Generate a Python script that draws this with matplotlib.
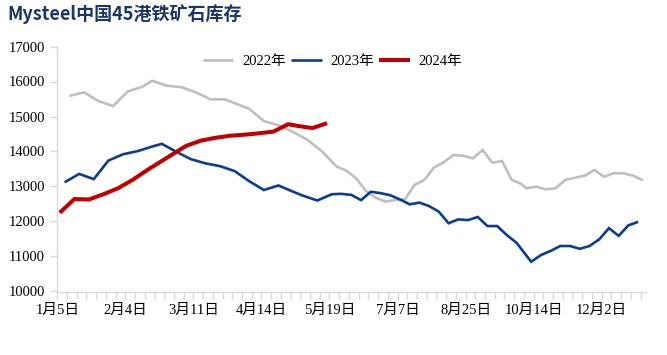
import matplotlib
matplotlib.use("Agg")
import matplotlib.pyplot as plt
import numpy as np

# ---- data ----
title = "Mysteel中国45港铁矿石库存"
tick_labels = ["1月5日", "2月4日", "3月11日", "4月14日", "5月19日",
               "7月7日", "8月25日", "10月14日", "12月2日"]
n_categories = 121
label_every = 14
tick_every = 2

cats_2022 = [2, 5, 8, 11, 14, 17, 19, 22, 25, 28, 31, 34, 36, 39, 42, 45, 48, 51, 54,
             57, 59, 61, 63, 65, 67, 69, 71, 73, 75, 77, 79, 81, 83, 85, 87, 89, 91, 93, 95,
             96, 98, 100, 102, 104, 106, 108, 110, 112, 114, 116, 118, 120]
vals_2022 = [15590, 15690, 15440, 15300, 15715, 15850, 16020, 15880, 15840, 15690, 15490,
             15490, 15380, 15220, 14870, 14750, 14560, 14330, 14000,
             13566, 13450, 13230, 12870, 12680, 12570, 12610, 12630, 13043, 13186, 13540,
             13690, 13900, 13880, 13806, 14043, 13680, 13729, 13186, 13071,
             12949, 12994, 12920, 12949, 13186, 13251, 13309, 13471, 13280, 13377, 13377,
             13309, 13177]

cats_2023 = [1, 4, 7, 10, 13, 16, 19, 21, 24, 27, 30, 33, 36, 39, 42, 45, 47, 50, 53, 56,
             58, 60, 62, 64, 66, 68, 70, 72, 74, 76, 78, 80, 82, 84, 86, 88, 90, 92, 94,
             97, 99, 101, 103, 105, 107, 109, 111, 113, 115, 117, 119]
vals_2023 = [13120, 13360, 13210, 13740, 13920, 14010, 14140, 14220, 13990, 13780, 13660,
             13580, 13440, 13150, 12900, 13030, 12910, 12740, 12600, 12780,
             12790, 12760, 12610, 12850, 12810, 12750, 12630, 12490, 12540, 12440, 12280,
             11950, 12060, 12040, 12130, 11870, 11870, 11610, 11390,
             10850, 11040, 11160, 11300, 11300, 11220, 11300, 11490, 11810, 11590, 11890,
             11990]

cats_2024 = [0, 3, 6, 9, 12, 15, 18, 21, 24, 26, 29, 32, 35, 38, 41, 44, 47, 49, 52, 55]
vals_2024 = [12250, 12640, 12630, 12780, 12950, 13190, 13470, 13730, 13990, 14160, 14310,
             14390, 14450, 14480, 14520, 14570, 14780, 14730, 14670, 14810]

series_names = ["2022年", "2023年", "2024年"]
y_min, y_max, y_step = 10000, 17000, 1000

# ---- style ----
serif_cjk = ["Liberation Serif", "Noto Sans CJK SC"]
colors = ["#BFBFBF", "#0B3D8C", "#C00000"]
widths = [1.9, 1.9, 2.9]
axis_color = "#D9D9D9"

fig = plt.figure(figsize=(6.67, 3.55), dpi=100)
ax = fig.add_axes([57.3 / 667, 1 - 291.5 / 355, (645.4 - 57.3) / 667, (291.5 - 46.5) / 355])

for cats, vals, name, c, w in zip([cats_2022, cats_2023, cats_2024],
                                  [vals_2022, vals_2023, vals_2024],
                                  series_names, colors, widths):
    ax.plot(np.array(cats) + 0.5, vals, color=c, lw=w, label=name,
            solid_joinstyle="miter", solid_capstyle="butt")

ax.set_xlim(0, n_categories)
ax.set_ylim(y_min, y_max)

yt = np.arange(y_min, y_max + 1, y_step)
ax.set_yticks(yt)
ax.set_yticklabels([str(v) for v in yt], family=serif_cjk, fontsize=10.5)

ax.xaxis.remove_overlapping_locs = False
ax.set_xticks(np.arange(0, n_categories, tick_every))
ax.set_xticklabels([])
ax.set_xticks(np.arange(0, label_every * len(tick_labels), label_every), minor=True)
ax.set_xticklabels(tick_labels, minor=True, family=serif_cjk, fontsize=10.5)
ax.tick_params(axis="x", which="major", length=5, color=axis_color, width=1)
ax.tick_params(axis="x", which="minor", length=0, pad=9)
ax.tick_params(axis="y", length=5, color=axis_color, width=1, pad=4)

for s in ["top", "right"]:
    ax.spines[s].set_visible(False)
for s in ["left", "bottom"]:
    ax.spines[s].set_color(axis_color)
    ax.spines[s].set_linewidth(1)

leg = fig.legend(loc="center", bbox_to_anchor=(332.5 / 667, 1 - 61 / 355), ncol=3,
                 frameon=False, prop={"family": serif_cjk, "size": 10.5},
                 handlelength=2.1, handletextpad=0.6, columnspacing=0.35)

fig.text(7 / 667, 1 - 4 / 355, title, family=["Noto Sans CJK SC"], fontweight="bold",
         fontsize=13, color="#1A3668", va="top", ha="left")

fig.savefig("out.png", dpi=100)
